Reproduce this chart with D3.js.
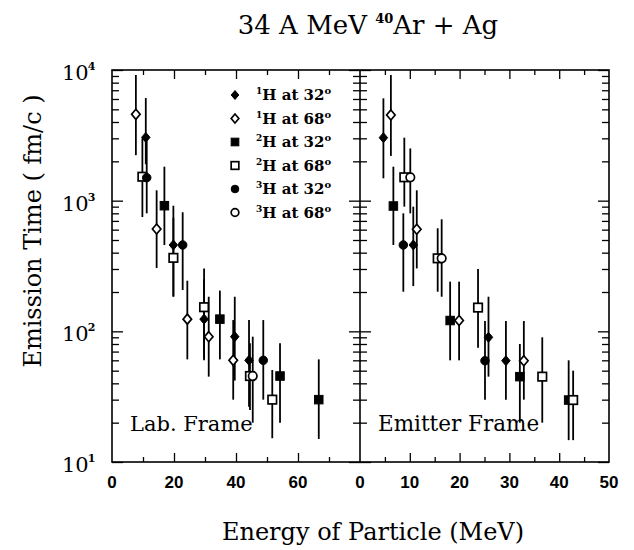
<!DOCTYPE html>
<html>
<head>
<meta charset="utf-8">
<script src="https://cdn.jsdelivr.net/npm/d3@7"></script>
<style>
body { margin: 0; background: #fff; }
svg text { fill: #000; }
</style>
</head>
<body>
<svg id="chart"></svg>
<script>
// ---------------------------- data -----------------------------------
// each point: [energy MeV, time fm/c, lower error, upper error]
const seriesNames = ['1H at 32', '1H at 68', '2H at 32', '2H at 68', '3H at 32', '3H at 68'];
const seriesMass = ['1', '1', '2', '2', '3', '3'];
const seriesAngle = ['32', '68', '32', '68', '32', '68'];
const seriesShape = ['diamond', 'diamond', 'square', 'square', 'circle', 'circle'];
const seriesFilled = [true, false, true, false, true, false];

// Lab. Frame panel
const lab_H1_32 = [[10.9, 3050, 1900, 6100], [19.8, 458, 184, 915], [29.7, 124, 62, 250], [39.6, 91, 42, 184], [44.2, 60, 26.5, 122]];
const lab_H1_68 = [[7.7, 4580, 2230, 9160], [14.4, 607, 305, 1200], [24.3, 124, 61, 244], [31.2, 91, 45, 184], [39.1, 60, 30, 122]];
const lab_H2_32 = [[16.9, 915, 458, 1820], [34.8, 124, 61, 205], [54.2, 45.5, 20, 81], [66.7, 30, 15, 61]];
const lab_H2_68 = [[9.8, 1525, 750, 3000], [19.8, 365, 185, 740], [29.7, 153, 60, 303], [44.5, 45.5, 25, 81], [51.7, 30, 15.2, 50.6]];
const lab_H3_32 = [[11.2, 1500, 800, 3000], [22.8, 458, 207, 815], [48.8, 60, 30, 122]];
const lab_H3_68 = [[45.4, 45.5, 20, 91]];

// Emitter Frame panel
const emi_H1_32 = [[4.7, 3035, 1483, 6070], [10.7, 458, 222, 900], [25.8, 90, 45, 184], [29.3, 59.6, 30, 120]];
const emi_H1_68 = [[6.2, 4530, 2200, 9160], [11.4, 604, 303, 1200], [19.9, 121, 60, 240], [32.9, 59.6, 30, 120]];
const emi_H2_32 = [[6.7, 910, 458, 1820], [18.1, 121, 60, 240], [32.1, 45, 20, 80], [41.9, 29.8, 14.7, 60]];
const emi_H2_68 = [[8.9, 1510, 900, 3035], [15.6, 362, 201, 615], [23.7, 152, 75, 300], [36.6, 45, 20, 90], [42.8, 29.8, 14.7, 50]];
const emi_H3_32 = [[8.7, 458, 201, 800], [25.1, 59.6, 30, 120]];
const emi_H3_68 = [[10.1, 1510, 800, 2510], [16.4, 362, 184, 720]];

const labSeries = [lab_H1_32, lab_H1_68, lab_H2_32, lab_H2_68, lab_H3_32, lab_H3_68];
const emiSeries = [emi_H1_32, emi_H1_68, emi_H2_32, emi_H2_68, emi_H3_32, emi_H3_68];

const labTicks = [0, 20, 40, 60];
const emiTicks = [0, 10, 20, 30, 40, 50];
const yDecades = [10, 100, 1000, 10000];

// ---------------------------- chart -----------------------------------
const width = 634;
const height = 550;
const svg = d3.select('#chart')
  .attr('width', width)
  .attr('height', height);

const fLeft = 112, fMid = 360, fRight = 609, fTop = 70, fBottom = 462;

const xLab = d3.scaleLinear().domain([0, 80]).range([fLeft, fMid]);
const xEmi = d3.scaleLinear().domain([0, 50]).range([fMid, fRight]);
const y = d3.scaleLog().domain([10, 10000]).range([fBottom, fTop]);

const serif = "'DejaVu Serif', 'Liberation Serif', serif";
const sans = "'Liberation Sans', Arial, sans-serif";

// minor log ticks 2..9 per decade
const yMinor = [];
for (let d = 10; d < 10000; d *= 10) {
  for (let k = 2; k <= 9; k++) yMinor.push(d * k);
}

function styleAxis(g) {
  g.select('.domain').remove();
  g.selectAll('.tick line').attr('stroke', '#000').attr('stroke-width', 1.3);
  g.selectAll('.tick text').remove();
}

// x ticks (bottom & top, pointing inward)
function xTicks(scale, major, minor) {
  svg.append('g').attr('transform', `translate(0,${fBottom})`)
    .call(d3.axisBottom(scale).tickValues(major).tickSize(-9)).call(styleAxis);
  svg.append('g').attr('transform', `translate(0,${fBottom})`)
    .call(d3.axisBottom(scale).tickValues(minor).tickSize(-5)).call(styleAxis);
  svg.append('g').attr('transform', `translate(0,${fTop})`)
    .call(d3.axisTop(scale).tickValues(major).tickSize(-9)).call(styleAxis);
  svg.append('g').attr('transform', `translate(0,${fTop})`)
    .call(d3.axisTop(scale).tickValues(minor).tickSize(-5)).call(styleAxis);
}
xTicks(xLab, [20, 40, 60], [10, 30, 50, 70]);
xTicks(xEmi, [10, 20, 30, 40], [5, 15, 25, 35, 45]);

// y ticks
function yTicks(x, axisFn) {
  svg.append('g').attr('transform', `translate(${x},0)`)
    .call(axisFn(y).tickValues(yDecades).tickSize(-11)).call(styleAxis);
  svg.append('g').attr('transform', `translate(${x},0)`)
    .call(axisFn(y).tickValues(yMinor).tickSize(-7)).call(styleAxis);
}
yTicks(fLeft, d3.axisLeft);
yTicks(fMid, d3.axisLeft);
yTicks(fMid, d3.axisRight);
yTicks(fRight, d3.axisRight);

// frame
svg.append('rect')
  .attr('x', fLeft).attr('y', fTop)
  .attr('width', fRight - fLeft).attr('height', fBottom - fTop)
  .attr('fill', 'none').attr('stroke', '#000').attr('stroke-width', 1.6);
svg.append('line')
  .attr('x1', fMid).attr('x2', fMid).attr('y1', fTop).attr('y2', fBottom)
  .attr('stroke', '#000').attr('stroke-width', 1.6);

// x tick labels
svg.append('g').selectAll('text').data(labTicks).enter().append('text')
  .attr('x', d => xLab(d)).attr('y', 488)
  .attr('text-anchor', 'middle')
  .style('font-family', sans).style('font-weight', 'bold').style('font-size', '17px')
  .text(d => d);
svg.append('g').selectAll('text').data(emiTicks).enter().append('text')
  .attr('x', d => xEmi(d)).attr('y', 488)
  .attr('text-anchor', 'middle')
  .style('font-family', sans).style('font-weight', 'bold').style('font-size', '17px')
  .text(d => d);

// y tick labels 10^n
const yl = svg.append('g').selectAll('text').data(yDecades).enter().append('text')
  .attr('x', 62).attr('y', d => y(d) + 10)
  .style('font-family', serif).style('font-size', '21px');
yl.append('tspan').text('10');
yl.append('tspan').attr('dy', -10).attr('dx', -1)
  .style('font-size', '11px').style('font-weight', 'bold')
  .text(d => Math.round(Math.log10(d)));

// title
const title = svg.append('text')
  .attr('x', 368).attr('y', 34)
  .attr('text-anchor', 'middle')
  .style('font-family', serif).style('font-size', '26px');
title.append('tspan').text('34 A MeV ');
title.append('tspan').attr('dy', -11).style('font-size', '13px').style('font-weight', 'bold').text('40');
title.append('tspan').attr('dy', 11).text('Ar + Ag');

// axis titles
svg.append('text')
  .attr('x', 373).attr('y', 540)
  .attr('text-anchor', 'middle')
  .style('font-family', serif).style('font-size', '24px')
  .text('Energy of Particle (MeV)');
svg.append('text')
  .attr('transform', 'translate(41,231) rotate(-90)')
  .attr('text-anchor', 'middle')
  .style('font-family', serif).style('font-size', '24px')
  .text('Emission Time ( fm/c )');

// panel labels
svg.append('text').attr('x', 130).attr('y', 431)
  .style('font-family', serif).style('font-size', '21px').text('Lab. Frame');
svg.append('text').attr('x', 378).attr('y', 431)
  .style('font-family', serif).style('font-size', '21.5px').text('Emitter Frame');

// ---------------------------- markers -----------------------------------
function drawMarker(g, shape, filled, cx, cy, s) {
  let m;
  if (shape === 'diamond') {
    m = g.append('path')
      .attr('d', `M${cx},${cy - s}L${cx + s * 0.85},${cy}L${cx},${cy + s}L${cx - s * 0.85},${cy}Z`);
  } else if (shape === 'square') {
    m = g.append('rect')
      .attr('x', cx - s * 0.85).attr('y', cy - s * 0.85)
      .attr('width', s * 1.7).attr('height', s * 1.7);
  } else {
    m = g.append('circle').attr('cx', cx).attr('cy', cy).attr('r', s * 0.85);
  }
  m.attr('fill', filled ? '#000' : '#fff')
    .attr('stroke', '#000').attr('stroke-width', filled ? 1 : 1.7);
}

function drawPanel(xs, list) {
  const g = svg.append('g');
  list.forEach((pts, i) => {
    pts.forEach(p => {
      g.append('line')
        .attr('x1', xs(p[0])).attr('x2', xs(p[0]))
        .attr('y1', y(p[2])).attr('y2', y(p[3]))
        .attr('stroke', '#000').attr('stroke-width', 1.8);
    });
  });
  list.forEach((pts, i) => {
    pts.forEach(p => {
      drawMarker(g, seriesShape[i], seriesFilled[i], xs(p[0]), y(p[1]), 5);
    });
  });
}
drawPanel(xLab, labSeries);
drawPanel(xEmi, emiSeries);

// legend
const legend = svg.append('g');
seriesNames.forEach((name, i) => {
  const ly = 95 + i * 23.5;
  drawMarker(legend, seriesShape[i], seriesFilled[i], 235, ly, 4.5);
  const t = legend.append('text')
    .attr('x', 256).attr('y', ly + 5)
    .style('font-family', serif).style('font-weight', 'bold').style('font-size', '15px');
  t.append('tspan').attr('dy', -6).style('font-size', '9px').text(seriesMass[i]);
  t.append('tspan').attr('dy', 6).text('H at ' + seriesAngle[i]);
  t.append('tspan').attr('dy', -6).style('font-size', '10px').text('o');
});
</script>
</body>
</html>
